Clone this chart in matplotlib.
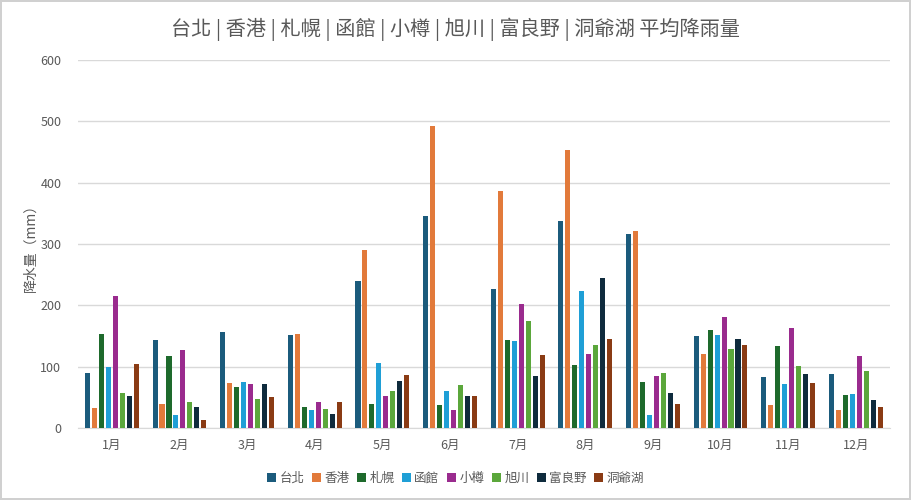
import numpy as np
import matplotlib.pyplot as plt

plt.rcParams['font.family'] = ['Noto Sans CJK TC', 'DejaVu Sans']

months = ["1月", "2月", "3月", "4月", "5月", "6月", "7月", "8月", "9月", "10月", "11月", "12月"]
cities = ["台北", "香港", "札幌", "函館", "小樽", "旭川", "富良野", "洞爺湖"]

taipei = [90, 143, 157, 152, 240, 345, 227, 338, 316, 150, 83, 88]
hongkong = [33, 39, 74, 153, 291, 492, 387, 454, 322, 120, 38, 29]
sapporo = [153, 117, 67, 34, 39, 38, 144, 102, 75, 160, 134, 54]
hakodate = [100, 21, 75, 29, 106, 60, 142, 223, 22, 152, 72, 56]
otaru = [216, 127, 71, 42, 52, 30, 202, 120, 84, 181, 163, 118]
asahikawa = [57, 42, 48, 31, 60, 70, 175, 136, 89, 129, 101, 93]
furano = [52, 35, 71, 23, 77, 52, 84, 245, 57, 145, 88, 46]
toya = [104, 13, 51, 42, 87, 52, 119, 145, 39, 136, 73, 35]

series = [taipei, hongkong, sapporo, hakodate, otaru, asahikawa, furano, toya]
colors = ["#1b5b7c", "#e27a3b", "#1e6a2c", "#1f9fd6", "#9a2b8e", "#5ba73b", "#0f2b3d", "#8a3b14"]

fig = plt.figure(figsize=(9.11, 5.00), dpi=100)
fig.patch.set_edgecolor("#d0d0d0")
fig.patch.set_linewidth(1.5)
ax = fig.add_axes([0.0856, 0.144, 0.891, 0.736])

x = np.arange(len(months))
step = 0.103
width = 0.075
for i, (name, vals) in enumerate(zip(cities, series)):
    ax.bar(x + (i - 3.5) * step, vals, width, color=colors[i], label=name, zorder=3)

ax.set_xlim(-0.5, len(months) - 0.5)
ax.set_ylim(0, 600)
ax.set_yticks(range(0, 601, 100))
ax.set_xticks(x)
ax.set_xticklabels(months)
ax.tick_params(length=0, colors="#595959", labelsize=9)
ax.tick_params(axis="x", pad=8)
ax.tick_params(axis="y", pad=12)
ax.grid(axis="y", color="#d9d9d9", linewidth=1, zorder=0)
for s in ["top", "right", "left"]:
    ax.spines[s].set_visible(False)
ax.spines["bottom"].set_color("#d9d9d9")

ax.set_ylabel("降水量（mm）", color="#595959", fontsize=10, labelpad=2)
fig.suptitle("台北 | 香港 | 札幌 | 函館 | 小樽 | 旭川 | 富良野 | 洞爺湖 平均降雨量",
             y=0.965, fontsize=14.5, color="#595959")

fig.legend(loc="center", bbox_to_anchor=(0.5, 0.043), ncol=8, frameon=False,
           fontsize=9, handlelength=0.7, handleheight=0.7, handletextpad=0.3,
           columnspacing=0.6, labelcolor="#595959")

fig.savefig("out.png", dpi=100)
